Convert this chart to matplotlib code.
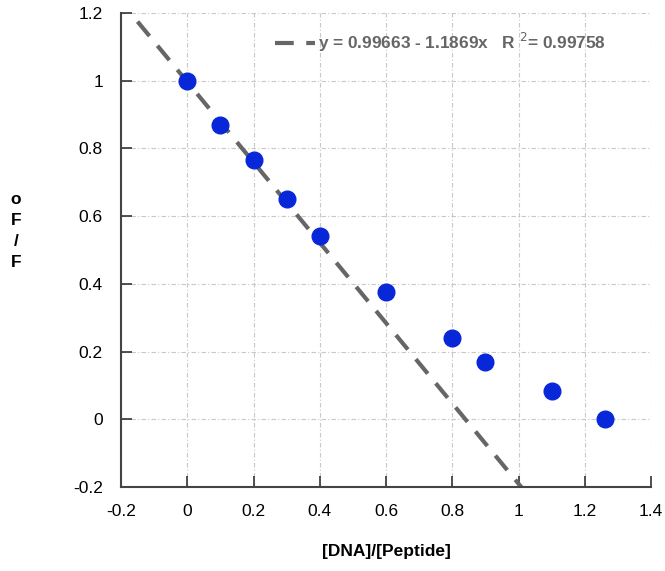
import numpy as np
import matplotlib
matplotlib.use("Agg")
from matplotlib import pyplot as plt

plt.rcParams['font.family'] = ['Liberation Sans', 'DejaVu Sans']

# measured points
ratio = [0.0, 0.1, 0.2, 0.3, 0.4, 0.6, 0.8, 0.9, 1.1, 1.26]
f0_f = [1.0, 0.87, 0.765, 0.65, 0.54, 0.375, 0.24, 0.17, 0.085, 0.0]

# linear fit as printed on the chart
intercept = 0.99663
slope = -1.1869
r2 = 0.99758
fit_x = [-0.15, 1.02]

xticks = [-0.2, 0, 0.2, 0.4, 0.6, 0.8, 1, 1.2, 1.4]
yticks = [-0.2, 0, 0.2, 0.4, 0.6, 0.8, 1, 1.2]

fig = plt.figure(figsize=(6.65, 5.71), dpi=100)
ax = fig.add_axes([121 / 665, 1 - 487 / 571, 530 / 665, 474 / 571])

fx = np.array(fit_x)
ax.plot(fx, intercept + slope * fx, color='#666666', lw=3, dashes=(4.5, 3),
        dash_capstyle='butt',
        label=r"y = 0.99663 - 1.1869x   R $^{2}$= 0.99758", zorder=2)
ax.plot(ratio, f0_f, 'o', color='#0827d8', ms=12, mec='#0827d8', zorder=3)

ax.set_xlim(-0.2, 1.4)
ax.set_ylim(-0.2, 1.2)
ax.set_xticks(xticks)
ax.set_yticks(yticks)
ax.set_xticklabels(['-0.2', '0', '0.2', '0.4', '0.6', '0.8', '1', '1.2', '1.4'])
ax.set_yticklabels(['-0.2', '0', '0.2', '0.4', '0.6', '0.8', '1', '1.2'])
ax.tick_params(direction='in', length=8, width=1.2, labelsize=12.5, pad=12, color='#333333')
ax.tick_params(axis='y', length=8, pad=13)

ax.grid(True, color='#c8c8c8', lw=0.8, linestyle=(0, (4, 2, 1, 2)))
ax.set_axisbelow(True)
for s in ['top', 'right']:
    ax.spines[s].set_visible(False)
for s in ['left', 'bottom']:
    ax.spines[s].set_linewidth(1.5)
    ax.spines[s].set_color('#444444')

leg = ax.legend(loc='upper left', bbox_to_anchor=(0.262, 0.995), frameon=False,
                handlelength=2.3, handletextpad=0.15, fontsize=12.4)
for t in leg.get_texts():
    t.set_color('#666666')
    t.set_fontweight('bold')

ax.set_xlabel('[DNA]/[Peptide]', fontsize=12.5, fontweight='bold', labelpad=18)
fig.text(16 / 665, 1 - 231 / 571, 'o\nF\n/\nF', fontsize=12.5, fontweight='bold',
         ha='center', va='center', linespacing=1.5)

fig.savefig('out.png', dpi=100)
